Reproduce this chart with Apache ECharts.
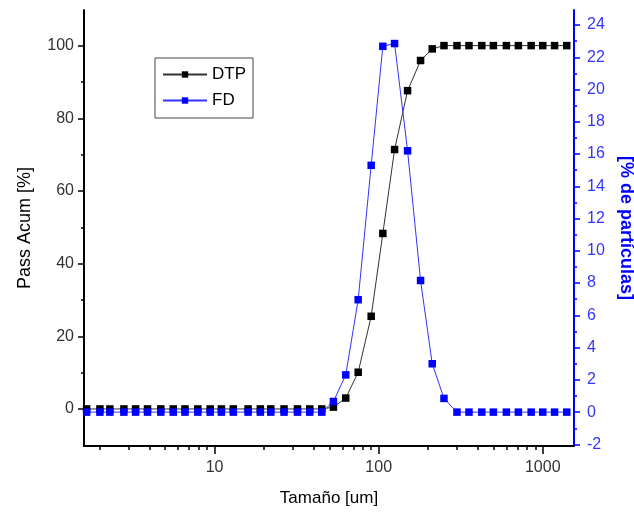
<!DOCTYPE html>
<html>
<head>
<meta charset="utf-8">
<script src="https://cdn.jsdelivr.net/npm/echarts@6/dist/echarts.min.js"></script>
<style>
html,body{margin:0;padding:0;background:#fff;}
#chart{width:634px;height:516px;}
</style>
</head>
<body>
<div id="chart"></div>
<script>
// Particle size (um)
var sizes = [1.66, 2.0, 2.3, 2.8, 3.3, 3.9, 4.7, 5.6, 6.6, 7.9, 9.4, 11, 13, 16, 19, 22, 26.5, 32, 38, 45,
             53, 63, 75, 90, 106, 125, 150, 180, 212, 250, 300, 355, 425, 500, 600, 710, 850, 1000, 1180, 1400];
// Cumulative passing [%] (left axis)
var dtp = [0, 0, 0, 0, 0, 0, 0, 0, 0, 0, 0, 0, 0, 0, 0, 0, 0, 0, 0, 0,
           0.5, 3.0, 10.1, 25.5, 48.3, 71.4, 87.6, 95.9, 99.1, 100, 100, 100, 100, 100, 100, 100, 100, 100, 100, 100];
// Frequency distribution [% of particles] (right axis)
var fd = [0, 0, 0, 0, 0, 0, 0, 0, 0, 0, 0, 0, 0, 0, 0, 0, 0, 0, 0, 0,
          0.66, 2.31, 6.97, 15.3, 22.68, 22.85, 16.2, 8.16, 3.0, 0.85, 0, 0, 0, 0, 0, 0, 0, 0, 0, 0];

var xMajor = [10, 100, 1000];
var xMinor = [2, 3, 4, 5, 6, 7, 8, 9, 20, 30, 40, 50, 60, 70, 80, 90, 200, 300, 400, 500, 600, 700, 800, 900];
var leftMajor = [0, 20, 40, 60, 80, 100];
var leftMinor = [10, 30, 50, 70, 90];
var rightMajor = [-2, 0, 2, 4, 6, 8, 10, 12, 14, 16, 18, 20, 22, 24];
var rightMinor = [-1, 1, 3, 5, 7, 9, 11, 13, 15, 17, 19, 21, 23];

var FONT = 'Liberation Sans, Arial, sans-serif';
var BLUE = '#0000ff';

function zip(xs, ys) { return xs.map(function (x, i) { return [x, ys[i]]; }); }

var chart = echarts.init(document.getElementById('chart'), null, {renderer: 'canvas'});
var xBase = {type: 'log', logBase: 10, min: 1.6, max: 1550, position: 'bottom', splitLine: {show: false}};
var lBase = {type: 'value', min: -10.2, max: 109.8, position: 'left', splitLine: {show: false}};
var rBase = {type: 'value', min: -2.1, max: 24.93, position: 'right', splitLine: {show: false}};

chart.setOption({
  animation: false,
  backgroundColor: '#fff',
  grid: {left: 84, right: 60, top: 10, bottom: 70, containLabel: false, outerBoundsMode: 'none'},
  legend: {
    left: 155, top: 58, orient: 'vertical',
    backgroundColor: '#fff', borderColor: '#444', borderWidth: 1,
    padding: [8, 7, 9, 7], itemGap: 9, itemWidth: 44, itemHeight: 8,
    textStyle: {fontFamily: FONT, fontSize: 17, color: '#000'},
    data: ['DTP', 'FD']
  },
  xAxis: [
    Object.assign({}, xBase, {
      name: 'Tamaño [um]', nameLocation: 'middle', nameGap: 44,
      nameTextStyle: {fontFamily: FONT, fontSize: 17, color: '#000'},
      axisLine: {show: true, onZero: false, lineStyle: {color: '#000', width: 2}},
      axisTick: {show: true, inside: false, length: 8, customValues: xMajor, lineStyle: {color: '#000', width: 1.5}},
      axisLabel: {show: true, customValues: xMajor, margin: 14, fontFamily: FONT, fontSize: 16, color: '#333',
        formatter: function (v) { return String(Math.round(v)); }}
    }),
    Object.assign({}, xBase, {
      axisLine: {show: false, onZero: false},
      axisTick: {show: true, inside: false, length: 4, customValues: xMinor, lineStyle: {color: '#000', width: 1.5}},
      axisLabel: {show: false}
    })
  ],
  yAxis: [
    Object.assign({}, lBase, {
      name: 'Pass Acum [%]', nameLocation: 'middle', nameGap: 50,
      nameTextStyle: {fontFamily: FONT, fontSize: 18, color: '#000'},
      axisLine: {show: true, onZero: false, lineStyle: {color: '#000', width: 2}},
      axisTick: {show: true, inside: false, length: 6, customValues: leftMajor, lineStyle: {color: '#000', width: 1.5}},
      axisLabel: {show: true, customValues: leftMajor, margin: 10, fontFamily: FONT, fontSize: 16, color: '#333'}
    }),
    Object.assign({}, rBase, {
      name: '[% de partículas]', nameLocation: 'middle', nameGap: 43, nameRotate: -90,
      nameTextStyle: {fontFamily: FONT, fontSize: 18, fontWeight: 'bold', color: BLUE},
      axisLine: {show: true, onZero: false, lineStyle: {color: BLUE, width: 2}},
      axisTick: {show: true, inside: false, length: 6, customValues: rightMajor, lineStyle: {color: BLUE, width: 1.5}},
      axisLabel: {show: true, customValues: rightMajor, margin: 13, fontFamily: FONT, fontSize: 16, color: '#3535ff'}
    }),
    Object.assign({}, lBase, {
      axisLine: {show: false, onZero: false},
      axisTick: {show: true, inside: false, length: 3, customValues: leftMinor, lineStyle: {color: '#000', width: 1.5}},
      axisLabel: {show: false}
    }),
    Object.assign({}, rBase, {
      axisLine: {show: false, onZero: false},
      axisTick: {show: true, inside: false, length: 3, customValues: rightMinor, lineStyle: {color: BLUE, width: 1.5}},
      axisLabel: {show: false}
    })
  ],
  series: [
    {
      name: 'DTP', type: 'line', xAxisIndex: 0, yAxisIndex: 0,
      data: zip(sizes, dtp),
      symbol: 'rect', symbolSize: 7.5, showAllSymbol: true,
      itemStyle: {color: '#000'},
      lineStyle: {color: '#333', width: 1},
      emphasis: {disabled: true}
    },
    {
      name: 'FD', type: 'line', xAxisIndex: 0, yAxisIndex: 1,
      data: zip(sizes, fd),
      symbol: 'rect', symbolSize: 7.5, showAllSymbol: true,
      itemStyle: {color: BLUE},
      lineStyle: {color: '#3333ff', width: 1},
      emphasis: {disabled: true}
    }
  ]
});
</script>
</body>
</html>
